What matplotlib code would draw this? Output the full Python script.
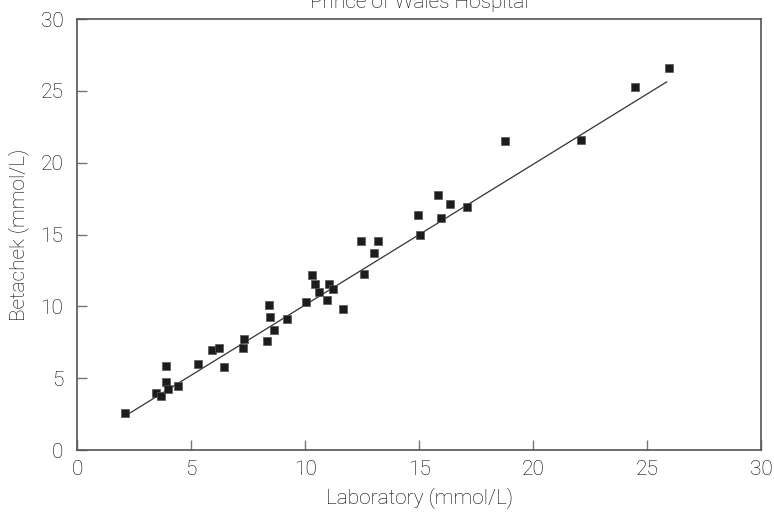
import matplotlib
matplotlib.use("Agg")
import matplotlib.pyplot as plt
import numpy as np

# --- data ---
laboratory = [2.09, 3.45, 3.68, 3.90, 3.90, 3.99, 4.40, 5.29, 5.92, 6.21,
              6.43, 7.28, 7.31, 8.33, 8.42, 8.45, 8.63, 9.21, 10.02, 10.28,
              10.44, 10.60, 10.94, 11.03, 11.23, 11.66, 12.43, 12.59, 13.01, 13.19,
              14.96, 15.04, 15.81, 15.93, 16.36, 17.11, 18.76, 22.08, 24.45, 25.94]
betachek = [2.60, 3.95, 3.76, 5.82, 4.75, 4.27, 4.43, 5.96, 6.96, 7.10,
            5.76, 7.10, 7.70, 7.62, 10.11, 9.23, 8.37, 9.12, 10.30, 12.20,
            11.57, 10.98, 10.45, 11.57, 11.24, 9.79, 14.52, 12.25, 13.73, 14.52,
            16.33, 14.94, 17.75, 16.18, 17.12, 16.93, 21.48, 21.57, 25.28, 26.56]

# regression line as drawn
fit_x = [2.17, 25.85]
fit_slope = 0.979
fit_intercept = 0.315

ticks = [0, 5, 10, 15, 20, 25, 30]

text_color = "#000000"
spine_color = "#555555"

plt.rcParams['font.family'] = ['Roboto', 'DejaVu Sans']
plt.rcParams['font.weight'] = 'light'
plt.rcParams['axes.labelweight'] = 'light'
plt.rcParams['axes.titleweight'] = 'light'

fig = plt.figure(figsize=(7.74, 5.14), dpi=100)
ax = fig.add_axes([0.0999, 0.1245, 0.8837, 0.8385])

fit_y = [fit_slope * v + fit_intercept for v in fit_x]
ax.plot(fit_x, fit_y, color="#333333", linewidth=0.9, zorder=2)

ax.plot(laboratory, betachek, linestyle="none", marker="s", markersize=5.8,
        markerfacecolor="#1c1c1c", markeredgecolor="#555555",
        markeredgewidth=0.5, zorder=3)

ax.set_xlim(0, 30)
ax.set_ylim(0, 30)
ax.set_xticks(ticks)
ax.set_yticks(ticks)

for side in ax.spines.values():
    side.set_color(spine_color)
    side.set_linewidth(1.2)

ax.tick_params(direction="in", length=7, width=1.0, color="#777777",
               labelsize=15, labelcolor=text_color)
ax.tick_params(axis="y", pad=10)
ax.tick_params(axis="x", pad=7)

ax.set_xlabel("Laboratory (mmol/L)", fontsize=15, color=text_color, labelpad=6)
ax.set_ylabel("Betachek (mmol/L)", fontsize=15, color=text_color, labelpad=8)
ax.set_title("Prince of Wales Hospital", fontsize=15, color=text_color, pad=8)

fig.savefig("out.png", dpi=100)
